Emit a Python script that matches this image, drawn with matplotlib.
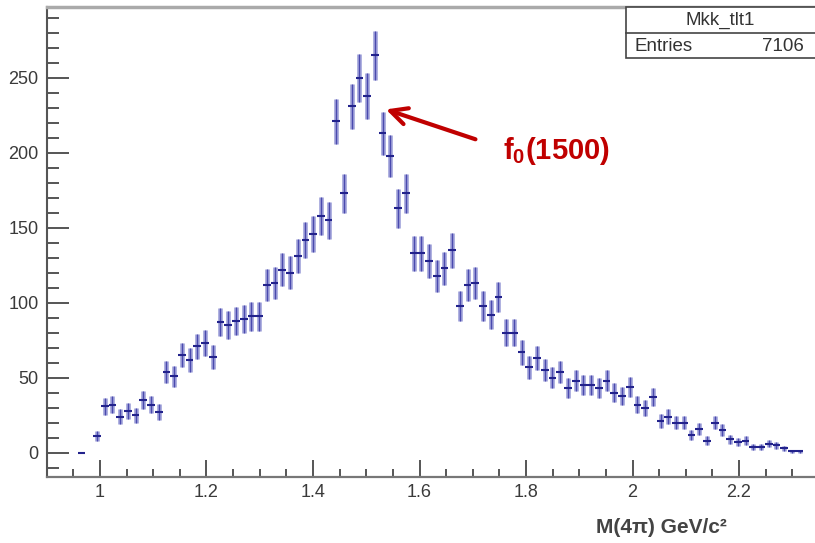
import numpy as np
import matplotlib

matplotlib.use("Agg")
import matplotlib.pyplot as plt
from matplotlib.patches import Rectangle
from matplotlib.ticker import MultipleLocator

plt.rcParams["font.family"] = ["Liberation Sans", "DejaVu Sans"]
plt.rcParams["mathtext.default"] = "regular"

# histogram binning: 100 bins from 0.9 to 2.35 GeV/c^2
hist_lo = 0.9
bin_width = 0.0145
first_bin = 4
# counts per bin, starting at bin 4 (nan = empty bin, not drawn)
counts = [
    0, np.nan, 11, 31, 32, 24, 28, 25, 35, 32, 27,
    54, 51, 65, 62, 71, 73, 64,
    87, 85, 88, 89, 91, 91,
    112, 113, 122, 120, 131, 142, 146, 158, 155,
    221, 173, 231, 250, 238, 265, 213, 198, 163, 173,
    133, 133, 128, 118, 123, 135, 98, 112, 113, 98, 92, 104,
    80, 80, 67, 57, 63, 55, 50, 54, 43, 48, 45, 45,
    43, 48, 40, 38, 44, 32, 30, 37, 21, 24, 20, 20,
    12, 16, 8, 20, 15, 9, 7, 8, 4, 4, 6, 5, 3, 1, 1,
]
entries = 7106
hist_name = "Mkk_tlt1"

counts = np.array(counts, dtype=float)
bin_idx = first_bin + np.arange(len(counts))
centers = hist_lo + bin_width * (bin_idx + 0.5)
ok = ~np.isnan(counts)
x = centers[ok]
y = counts[ok]
yerr = np.sqrt(y)

fig = plt.figure(figsize=(8.15, 5.43), dpi=100)
ax = fig.add_axes([0.05736, 0.1221, 0.9474, 0.8641])

# soft halo under the vertical bars (blurry look of the original)
ax.errorbar(x, y, yerr=yerr, fmt="none", ecolor="#a4a6dc", elinewidth=3.4, capsize=0)
ax.errorbar(x, y, yerr=yerr, fmt="none", ecolor="#4a4aae", elinewidth=1.0, capsize=0)
ax.errorbar(x, y, xerr=bin_width / 2, fmt="none", ecolor="#22228c", elinewidth=1.5, capsize=0)

ax.set_xlim(0.9, 2.35)
ax.set_ylim(-16, 297)

ax.xaxis.set_major_locator(MultipleLocator(0.2))
ax.xaxis.set_minor_locator(MultipleLocator(0.05))
ax.yaxis.set_major_locator(MultipleLocator(50))
ax.yaxis.set_minor_locator(MultipleLocator(10))
ax.set_xticks([1.0, 1.2, 1.4, 1.6, 1.8, 2.0, 2.2])
ax.set_xticklabels(["1", "1.2", "1.4", "1.6", "1.8", "2", "2.2"])

ax.tick_params(axis="both", which="both", direction="in", colors="#555555",
               labelcolor="#3a3a3a", labelsize=13, top=False, right=False)
ax.tick_params(axis="y", which="major", length=16, width=1.4, pad=6)
ax.tick_params(axis="y", which="minor", length=8.5, width=1.4)
ax.tick_params(axis="x", which="major", length=12, width=1.4, pad=5)
ax.tick_params(axis="x", which="minor", length=6, width=1.4)

ax.spines["left"].set_color("#555555")
ax.spines["left"].set_linewidth(1.5)
ax.spines["bottom"].set_color("#777777")
ax.spines["bottom"].set_linewidth(1.6)
ax.spines["top"].set_color("#aaaaaa")
ax.spines["top"].set_linewidth(2.5)
ax.spines["right"].set_visible(False)

ax.set_xlabel("M(4π) GeV/c²", fontsize=15, fontweight="bold", color="#444444", ha="right")
ax.xaxis.set_label_coords(0.881, -0.109)
ax.xaxis.label.set_va("center")

# f0(1500) annotation
ax.annotate("", xy=(1.532, 229.6), xytext=(1.71, 208.5),
            arrowprops=dict(arrowstyle="->", color="#c00000", lw=3, mutation_scale=30))
ax.text(1.757, 201.0, "f$_0$(1500)", color="#c00000", fontsize=21,
        fontweight="bold", va="center", ha="left")

# stats box
box_l, box_b, box_t = 0.768, 0.8926, 0.9862
fig.patches.append(Rectangle((box_l, box_b), 0.3, box_t - box_b, transform=fig.transFigure,
                             facecolor="white", edgecolor="#444444", lw=1.2, zorder=5))
fig.lines.append(plt.Line2D([box_l, 1.0], [0.9387, 0.9387], transform=fig.transFigure,
                            color="#444444", lw=1.2, zorder=6))
fig.text(0.884, 0.962, hist_name, ha="center", va="center", fontsize=13.5, color="#333333", zorder=7)
fig.text(0.779, 0.915, "Entries", ha="left", va="center", fontsize=13.5, color="#333333", zorder=7)
fig.text(0.986, 0.915, str(entries), ha="right", va="center", fontsize=13.5, color="#333333", zorder=7)

fig.savefig("out.png", dpi=100, facecolor="white")
